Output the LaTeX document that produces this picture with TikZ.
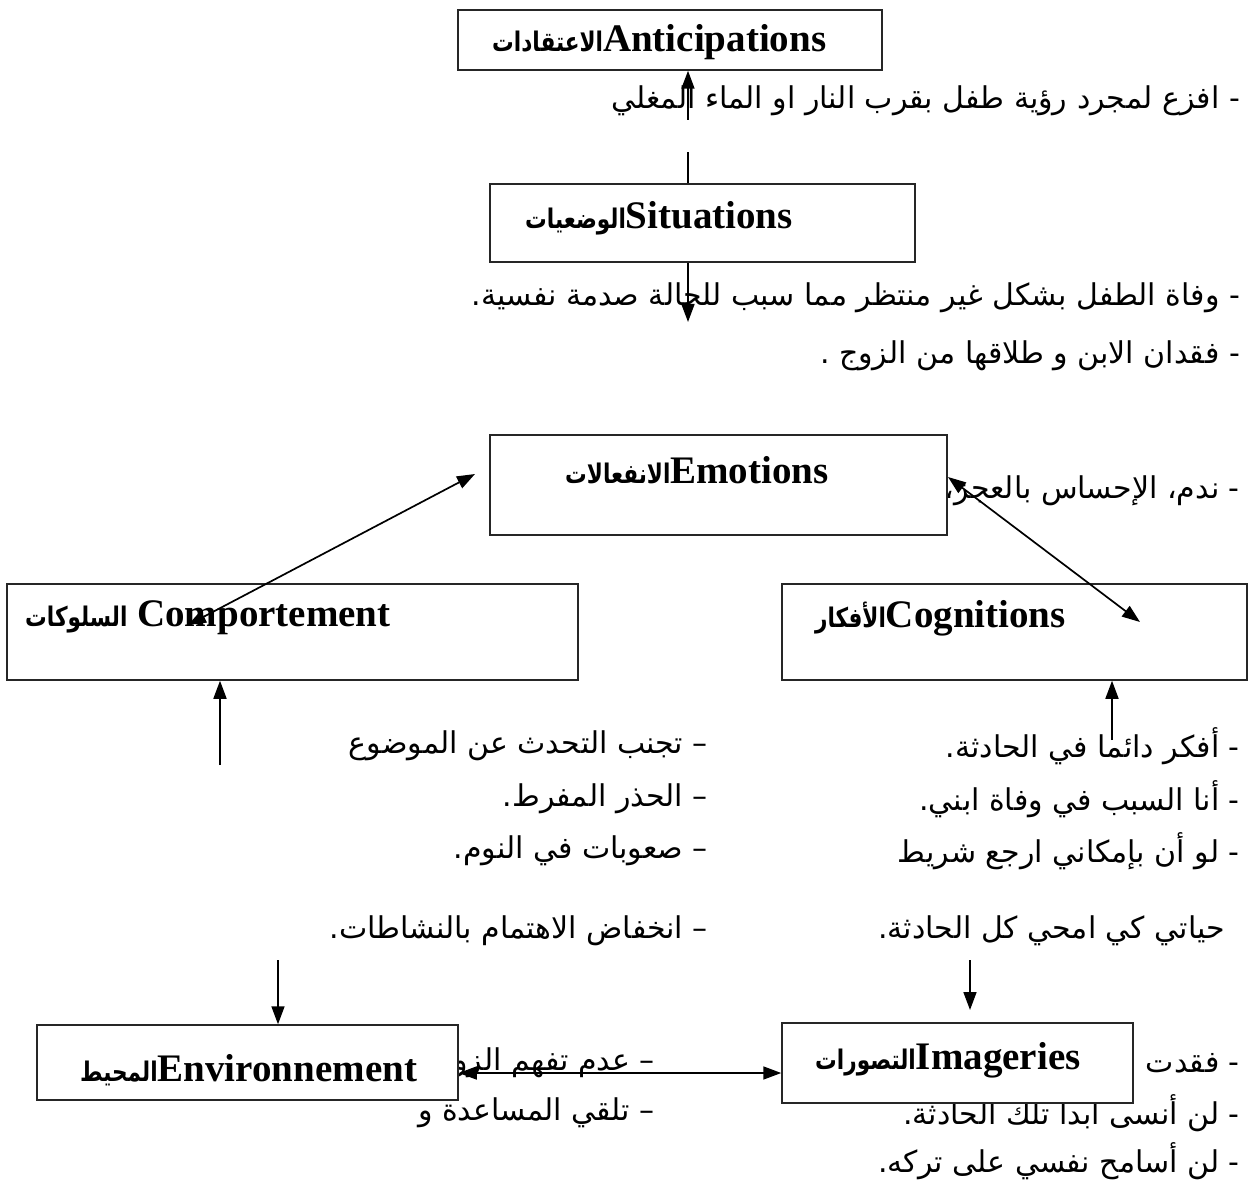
\documentclass[tikz,border=0pt]{standalone}
\usepackage{fontspec}
\setmainfont{Liberation Serif}
\newfontfamily\arabicfont[Script=Arabic]{DejaVu Sans}
\TeXXeTstate=1
\usetikzlibrary{arrows.meta}
\newcommand{\arlab}[1]{\scalebox{0.8}[1]{\arabicfont\bfseries\fontsize{27}{30}\selectfont\beginR #1\endR}}
\begin{document}
\begin{tikzpicture}[x=1pt,y=-1pt,
  box/.style={draw=black!85,line width=1.5pt,fill=white,inner sep=0pt},
  lab/.style={anchor=west,inner sep=0pt,font=\fontsize{39}{40}\selectfont\bfseries},
  body/.style={anchor=east,inner sep=0pt,font=\arabicfont\fontsize{30}{34}\selectfont},
  arr/.style={line width=1.7pt,-{Triangle[length=18pt,width=13pt]}},
  darr/.style={line width=1.7pt,{Triangle[length=18pt,width=13pt]}-{Triangle[length=18pt,width=13pt]}},
  plain/.style={line width=1.7pt}]
\useasboundingbox[fill=white] (0,0) rectangle (1251,1193);

% body texts (drawn first, boxes cover them)
\node[body] (t1) at (1240,101) {\beginR - افزع لمجرد رؤية طفل بقرب النار او الماء المغلي\endR};
\node[body] (t2) at (1240,298) {\beginR - وفاة الطفل بشكل غير منتظر مما سبب للحالة صدمة نفسية.\endR};
\node[body] (t3) at (1240,356) {\beginR - فقدان الابن و طلاقها من الزوج .\endR};
\node[body] (t4) at (1240,491) {\beginR - ندم، الإحساس بالعجز،\endR};
\node[body] (b1) at (708,746) {\beginR – تجنب التحدث عن الموضوع\endR};
\node[body] (b2) at (708,799) {\beginR – الحذر المفرط.\endR};
\node[body] (b3) at (708,851) {\beginR – صعوبات في النوم.\endR};
\node[body] (b4) at (708,931) {\beginR – انخفاض الاهتمام بالنشاطات.\endR};
\node[body] (c1) at (1240,746) {\beginR - أفكر دائما في الحادثة.\endR};
\node[body] (c2) at (1240,799) {\beginR - أنا السبب في وفاة ابني.\endR};
\node[body] (c3) at (1240,851) {\beginR - لو أن بإمكاني ارجع شريط\endR};
\node[body] (c4) at (1225,931) {\beginR حياتي كي امحي كل الحادثة.\endR};
\node[body] (e1) at (655,1063) {\beginR – عدم تفهم الزوج\endR};
\node[body] (e2) at (655,1113) {\beginR – تلقي المساعدة و\endR};
\node[body] (i1) at (1240,1063) {\beginR - فقدت\endR};
\node[body] (i2) at (1240,1113) {\beginR - لن أنسى ابدا تلك الحادثة.\endR};
\node[body] (i3) at (1240,1161) {\beginR - لن أسامح نفسي على تركه.\endR};

% boxes
\node[box,minimum width=424pt,minimum height=60pt] (ant) at (670,40) {};
\node[box,minimum width=425pt,minimum height=78pt] (sit) at (702.5,223) {};
\node[box,minimum width=457pt,minimum height=100pt] (emo) at (718.5,485) {};
\node[box,minimum width=571pt,minimum height=96pt] (com) at (292.5,632) {};
\node[box,minimum width=465pt,minimum height=96pt] (cog) at (1014.5,632) {};
\node[box,minimum width=421pt,minimum height=75pt] (env) at (247.5,1062.5) {};
\node[box,minimum width=351pt,minimum height=80pt] (img) at (957.5,1063) {};

% labels
\node[lab] (antl) at (492,42) {\arlab{الاعتقادات}Anticipations};
\node[lab] (sitl) at (525,218) {\arlab{الوضعيات}Situations};
\node[lab] (emol) at (565,470) {\arlab{الانفعالات}Emotions};
\node[lab] (coml) at (25,618) {\arlab{السلوكات} Comportement};
\node[lab] (cogl) at (815,618) {\arlab{الأفكار}Cognitions};
\node[lab] (envl) at (80,1070) {\arlab{المحيط}Environnement};
\node[lab] (imgl) at (815,1060) {\arlab{التصورات}Imageries};

% connector end points
\coordinate (a1) at (688,120);
\coordinate (a2) at (688,152);
\coordinate (a3) at (688,322);
\coordinate (pe1) at (948,477);
\coordinate (pc1) at (1140,622);
\coordinate (pe2) at (475,474);
\coordinate (pc2) at (188,625);
\coordinate (u1) at (220,765);
\coordinate (u2) at (1112,740);
\coordinate (d1) at (278,960);
\coordinate (d2) at (970,960);
\coordinate (d2e) at (970,1010);

% connectors
\draw[arr] (a1) -- (ant.south -| a1);
\draw[plain] (sit.north -| a2) -- (a2);
\draw[arr] (sit.south -| a3) -- (a3);
\draw[darr] (pc1) -- (pe1);
\draw[darr] (pc2) -- (pe2);
\draw[arr] (u1) -- (com.south -| u1);
\draw[arr] (u2) -- (cog.south -| u2);
\draw[arr] (d1) -- (env.north -| d1);
\draw[arr] (d2) -- (d2e);
\draw[darr] (env.east |- 0,1073) -- (img.west |- 0,1073);
\end{tikzpicture}
\end{document}
